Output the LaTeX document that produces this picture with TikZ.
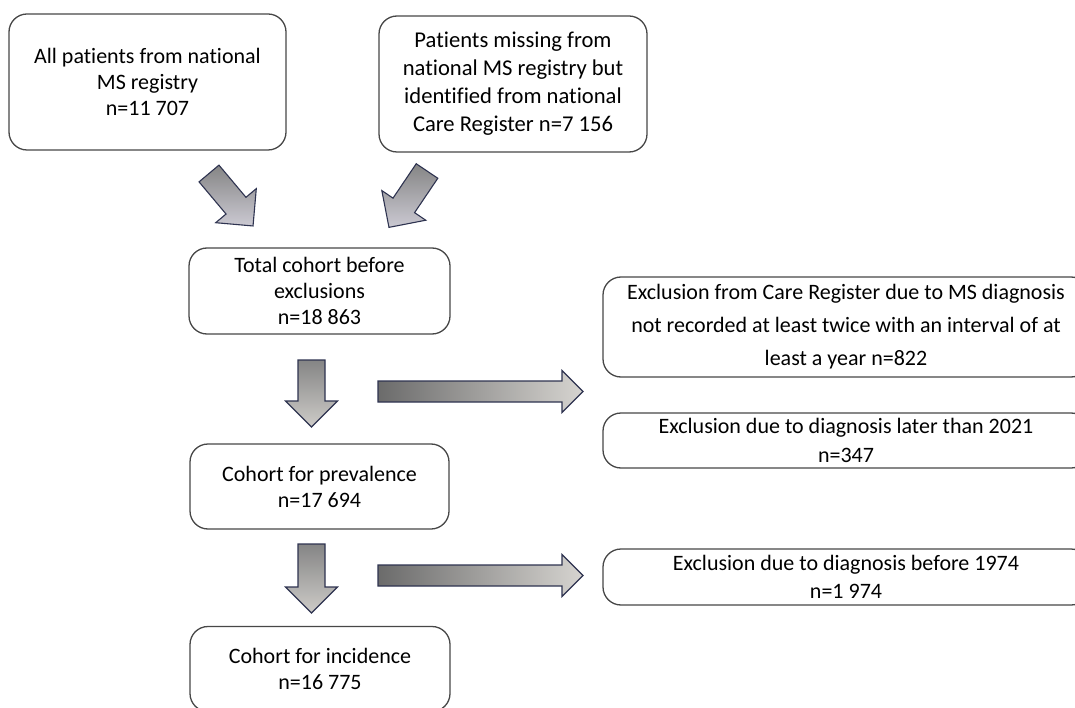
\documentclass[tikz,border=0pt]{standalone}
\usepackage{fontspec}
\setmainfont{Carlito}[Ligatures=NoCommon]
\definecolor{boxline}{HTML}{474747}
\definecolor{arrline}{HTML}{2E3350}
\definecolor{arrdark}{HTML}{6B6B6B}
\definecolor{arrmid}{HTML}{858585}
\definecolor{arrlight}{HTML}{D6D4D0}
\tikzset{
  flowbox/.style={draw=boxline, line width=1.3pt, rounded corners=18pt, fill=white,
    align=center, inner sep=2pt, text=black},
  fA/.style={font=\fontsize{22}{26}\selectfont},
  fB/.style={font=\fontsize{22.6}{28}\selectfont},
  fD/.style={font=\fontsize{22}{33}\selectfont},
  fE/.style={font=\fontsize{22}{28.5}\selectfont},
  pics/barrow/.style n args={4}{code={
    \draw[line width=1.1pt, draw=arrline, line join=miter, #4]
      (0,-#2/2) -- ({#1-#3/2},-#2/2) -- ({#1-#3/2},-#3/2) -- (#1,0)
      -- ({#1-#3/2},#3/2) -- ({#1-#3/2},#2/2) -- (0,#2/2) -- cycle;
  }}
}
\begin{document}
\begin{tikzpicture}[x=1pt,y=-1pt]
\useasboundingbox (0,0) rectangle (1075,708);
\clip (0,0) rectangle (1075,708);

% boxes
\node[flowbox, fA, minimum width=277pt, minimum height=136pt] (all) at (147.5,82)
  {All patients from national\\MS registry\\n=11 707};
\node[flowbox, fB, minimum width=268pt, minimum height=136pt] (miss) at (513,84)
  {Patients missing from\\national MS registry but\\identified from national\\Care Register n=7 156};
\node[flowbox, fA, minimum width=261pt, minimum height=86pt] (total) at (319.5,291)
  {Total cohort before\\exclusions\\n=18 863};
\node[flowbox, fA, minimum width=259pt, minimum height=85pt] (prev) at (319.5,486.5)
  {Cohort for prevalence\\n=17 694};
\node[flowbox, fA, minimum width=260pt, minimum height=85pt] (inc) at (320,669)
  {Cohort for incidence\\n=16 775};
\node[flowbox, fD, minimum width=486pt, minimum height=100pt] (excare) at (846,327)
  {Exclusion from Care Register due to MS diagnosis\\not recorded at least twice with an interval of at\\least a year n=822};
\node[flowbox, fE, minimum width=486pt, minimum height=55pt] (exlate) at (846,440.5)
  {Exclusion due to diagnosis later than 2021\\n=347};
\node[flowbox, fE, minimum width=486pt, minimum height=56pt] (exearly) at (846,577)
  {Exclusion due to diagnosis before 1974\\n=1 974};

% block arrows
\pic[rotate=-50] at (209,173.5) {barrow={68.5}{26}{53}{top color=arrmid, bottom color=arrlight!95!blue}};
\pic[rotate=-124] at (427,171) {barrow={68}{26}{53}{top color=arrmid, bottom color=arrlight!95!blue}};
\pic[rotate=-90] at (311.5,360) {barrow={67}{27}{52}{top color=arrmid, bottom color=arrlight!90!gray}};
\pic[rotate=-90] at (311.5,544) {barrow={69}{27}{52}{top color=arrmid, bottom color=arrlight!90!gray}};
\pic at (378,391.5) {barrow={205}{21}{42}{left color=arrdark, right color=arrlight}};
\pic at (378,575.5) {barrow={205}{21}{42}{left color=arrdark, right color=arrlight}};
\end{tikzpicture}
\end{document}
